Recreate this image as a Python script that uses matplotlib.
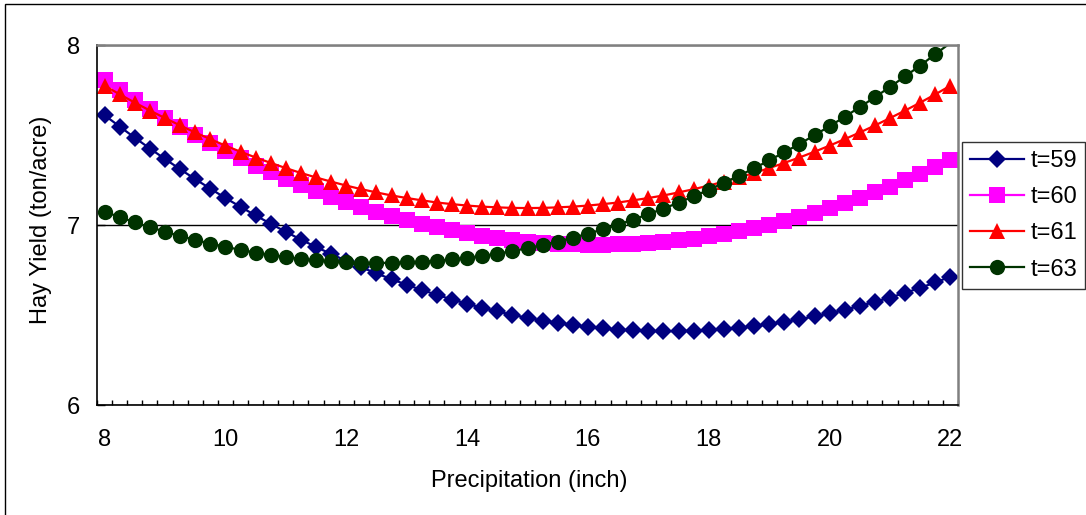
import matplotlib
matplotlib.use("Agg")
import matplotlib.pyplot as plt
from matplotlib.patches import Rectangle

plt.rcParams['font.family'] = ['Liberation Sans', 'DejaVu Sans']

# Precipitation categories (inch)
precip = [8.00, 8.25, 8.50, 8.75, 9.00, 9.25, 9.50, 9.75, 10.00, 10.25,
          10.50, 10.75, 11.00, 11.25, 11.50, 11.75, 12.00, 12.25, 12.50, 12.75,
          13.00, 13.25, 13.50, 13.75, 14.00, 14.25, 14.50, 14.75, 15.00, 15.25,
          15.50, 15.75, 16.00, 16.25, 16.50, 16.75, 17.00, 17.25, 17.50, 17.75,
          18.00, 18.25, 18.50, 18.75, 19.00, 19.25, 19.50, 19.75, 20.00, 20.25,
          20.50, 20.75, 21.00, 21.25, 21.50, 21.75, 22.00]

# Predicted hay yield (ton/acre) for each year t
yield_t59 = [7.610, 7.547, 7.485, 7.425, 7.367, 7.310, 7.255, 7.202, 7.150, 7.101,
             7.053, 7.007, 6.962, 6.919, 6.878, 6.839, 6.801, 6.765, 6.731, 6.699,
             6.668, 6.639, 6.612, 6.586, 6.562, 6.540, 6.520, 6.501, 6.484, 6.469,
             6.456, 6.444, 6.434, 6.426, 6.419, 6.415, 6.411, 6.410, 6.410, 6.413,
             6.416, 6.422, 6.429, 6.438, 6.449, 6.461, 6.476, 6.492, 6.509, 6.529,
             6.550, 6.573, 6.597, 6.623, 6.651, 6.681, 6.713]
yield_t60 = [7.806, 7.750, 7.697, 7.645, 7.595, 7.547, 7.500, 7.455, 7.412, 7.370,
             7.330, 7.292, 7.256, 7.221, 7.188, 7.157, 7.128, 7.100, 7.074, 7.050,
             7.027, 7.006, 6.987, 6.970, 6.954, 6.940, 6.928, 6.917, 6.908, 6.901,
             6.896, 6.892, 6.890, 6.890, 6.892, 6.895, 6.900, 6.907, 6.915, 6.925,
             6.937, 6.950, 6.966, 6.983, 7.001, 7.022, 7.044, 7.068, 7.094, 7.121,
             7.150, 7.181, 7.213, 7.248, 7.283, 7.321, 7.360]
yield_t61 = [7.774, 7.726, 7.680, 7.636, 7.594, 7.553, 7.514, 7.477, 7.441, 7.407,
             7.375, 7.345, 7.316, 7.289, 7.264, 7.241, 7.219, 7.199, 7.181, 7.164,
             7.150, 7.137, 7.125, 7.116, 7.108, 7.102, 7.098, 7.095, 7.094, 7.095,
             7.098, 7.102, 7.108, 7.116, 7.125, 7.137, 7.150, 7.164, 7.181, 7.199,
             7.219, 7.241, 7.264, 7.289, 7.316, 7.345, 7.375, 7.407, 7.441, 7.477,
             7.514, 7.553, 7.594, 7.636, 7.680, 7.726, 7.774]
yield_t63 = [7.074, 7.044, 7.015, 6.988, 6.963, 6.939, 6.917, 6.897, 6.879, 6.862,
             6.847, 6.834, 6.822, 6.812, 6.804, 6.798, 6.793, 6.790, 6.789, 6.790,
             6.792, 6.796, 6.801, 6.809, 6.818, 6.828, 6.841, 6.855, 6.871, 6.889,
             6.908, 6.929, 6.952, 6.976, 7.002, 7.030, 7.060, 7.091, 7.124, 7.159,
             7.196, 7.234, 7.274, 7.315, 7.359, 7.404, 7.450, 7.499, 7.549, 7.601,
             7.655, 7.710, 7.767, 7.826, 7.886, 7.949, 8.012]

series_labels = ['t=59', 't=60', 't=61', 't=63']
x_tick_labels = ['8', '10', '12', '14', '16', '18', '20', '22']
y_ticks = [6, 7, 8]

styles = [
    dict(color='#000080', marker='D', ms=9.4),
    dict(color='#FF00FF', marker='s', ms=11.0),
    dict(color='#FF0000', marker='^', ms=11.0),
    dict(color='#003300', marker='o', ms=11.0),
]
y_min, y_max = 6, 8
FS = 17

fig = plt.figure(figsize=(10.86, 5.15), dpi=100)
ax = fig.add_axes([97 / 1086, 1 - 405 / 515, 861 / 1086, 360 / 515])

for vals, lab, st in zip([yield_t59, yield_t60, yield_t61, yield_t63],
                         series_labels, styles):
    # markers are only drawn for points inside the value range
    visible = [i for i, v in enumerate(vals) if y_min <= v <= y_max]
    ax.plot(precip, vals, color=st['color'], lw=1.6, marker=st['marker'],
            ms=st['ms'], mfc=st['color'], mec=st['color'], mew=0,
            markevery=visible, label=lab)

# category axis: half a step of padding on each side
step = precip[1] - precip[0]
ax.set_xlim(precip[0] - step / 2, precip[-1] + step / 2)
ax.set_ylim(y_min, y_max)

ax.set_xticks([float(t) for t in x_tick_labels])
ax.set_xticklabels(x_tick_labels)
ax.set_xticks([precip[0] - step / 2 + step * k for k in range(len(precip) + 1)],
              minor=True)
ax.tick_params(axis='x', which='major', length=0, pad=17, labelsize=FS)
ax.tick_params(axis='x', which='minor', direction='in', length=3.8, width=1,
               color='black')

ax.set_yticks(y_ticks)
ax.tick_params(axis='y', which='major', direction='in', length=6, width=1,
               pad=12, labelsize=FS, color='black')

ax.set_axisbelow(True)
ax.yaxis.grid(True, color='black', lw=1)

for side in ('left', 'bottom'):
    ax.spines[side].set_color('black')
    ax.spines[side].set_linewidth(1.2)
for side in ('top', 'right'):
    ax.spines[side].set_color('#808080')
    ax.spines[side].set_linewidth(1.8)

ax.set_xlabel('Precipitation (inch)', fontsize=FS)
ax.xaxis.set_label_coords(0.502, -0.210)
ax.xaxis.label.set_va('center')
ax.set_ylabel('Hay Yield (ton/acre)', fontsize=FS)
ax.yaxis.set_label_coords(-0.065, 0.514)
ax.yaxis.label.set_va('center')

leg = fig.legend(loc='upper left', bbox_to_anchor=(962 / 1086, 1 - 142 / 515),
                 fontsize=FS, frameon=True, fancybox=False, edgecolor='black',
                 handlelength=2.3, handletextpad=0.25, labelspacing=0.6,
                 borderpad=0.34, borderaxespad=0)
leg.get_frame().set_linewidth(1.0)

# chart area border
fig.add_artist(Rectangle((5 / 1086, -0.1), 1.2, 1 - 4 / 515 + 0.1,
                         transform=fig.transFigure, fill=False,
                         edgecolor='black', lw=1.0))

fig.savefig('out.png', dpi=100, facecolor='white')
